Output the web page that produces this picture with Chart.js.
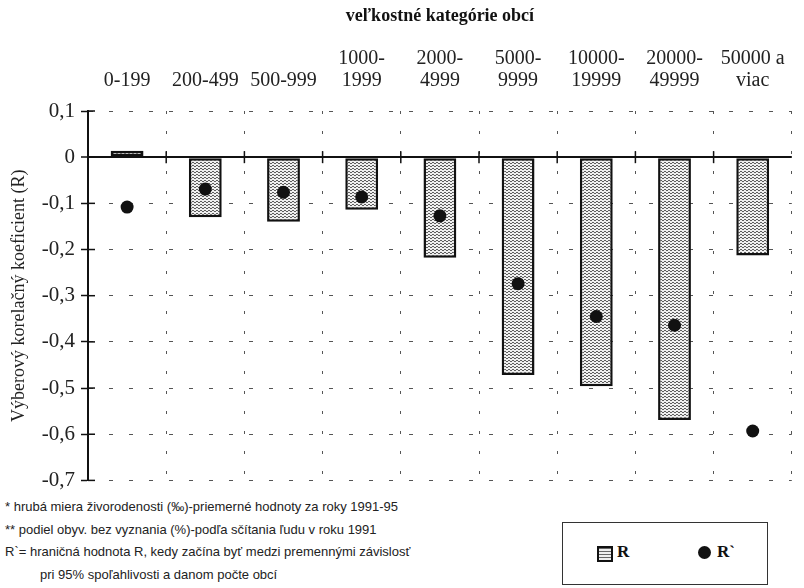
<!DOCTYPE html>
<html><head><meta charset="utf-8">
<script src="https://cdn.jsdelivr.net/npm/chart.js@4/dist/chart.umd.min.js"></script>
<style>
html,body{margin:0;padding:0;background:#fff}
body{width:804px;height:588px;overflow:hidden;position:relative}
#c{position:absolute;left:0;top:0}
.fn{position:absolute;left:5px;font-family:"Liberation Sans",Arial,sans-serif;font-size:13px;line-height:16px;color:#222;white-space:nowrap}
#legend{position:absolute;left:562px;top:522px;width:206px;height:63px;border:1.5px solid #333;box-sizing:border-box;background:#fff}
.sw{position:absolute;left:34px;top:23px;width:12px;height:12px;border:2px solid #111;background:repeating-linear-gradient(180deg,#666 0 1px,#eee 1px 3px)}
.lt{position:absolute;font-family:"Liberation Serif",serif;font-weight:bold;font-size:17px;line-height:20px;color:#111;top:19px}
.dot{position:absolute;left:135px;top:23px;width:13px;height:13px;border-radius:50%;background:#111}
</style>
</head><body>
<canvas id="c" width="804" height="499"></canvas>
<div class="fn" style="top:499px">* hrubá miera živorodenosti (‰)-priemerné hodnoty za roky 1991-95</div>
<div class="fn" style="top:522px">** podiel obyv. bez vyznania (%)-podľa sčítania ľudu v roku 1991</div>
<div class="fn" style="top:544px">R`= hraničná hodnota R, kedy začína byť medzi premennými závislosť</div>
<div class="fn" style="top:567px;left:40px">pri 95% spoľahlivosti a danom počte obcí</div>
<div id="legend">
  <div class="sw"></div><div class="lt" style="left:54px">R</div>
  <div class="dot"></div><div class="lt" style="left:154px">R`</div>
</div>
<script>
const categories = [['0-199'],['200-499'],['500-999'],['1000-','1999'],['2000-','4999'],['5000-','9999'],['10000-','19999'],['20000-','49999'],['50000 a','viac']];
const rValues = [0.014,-0.13,-0.14,-0.114,-0.218,-0.472,-0.496,-0.569,-0.213];
const rCritValues = [-0.108,-0.069,-0.076,-0.086,-0.127,-0.274,-0.345,-0.364,-0.593];
const xTitle = 'veľkostné kategórie obcí';
const yTitle = 'Výberový korelačný koeficient (R)';

const canvas = document.getElementById('c');
const ctx = canvas.getContext('2d');
function makePattern(){
  const p = document.createElement('canvas'); p.width = 4; p.height = 3;
  const g = p.getContext('2d');
  g.fillStyle = '#efefef'; g.fillRect(0,0,4,3);
  g.fillStyle = '#5e5e5e'; g.fillRect(0,0,2,1); g.fillRect(2,1,2,1);
  return ctx.createPattern(p,'repeat');
}
const isZero = c => c.tick && Math.abs(c.tick.value) < 1e-9;
const crossPlugin = {
  id:'cross',
  afterDatasetsDraw(chart){
    const {ctx, chartArea, scales:{x,y}} = chart;
    ctx.save(); ctx.strokeStyle = '#111'; ctx.lineWidth = 1.5;
    y.ticks.forEach((t,i)=>{const py = y.getPixelForTick(i); ctx.beginPath(); ctx.moveTo(chartArea.left,py); ctx.lineTo(chartArea.left+7,py); ctx.stroke();});
    const z = y.getPixelForValue(0);
    for(let i=1;i<categories.length;i++){
      const px = (x.getPixelForTick(i-1)+x.getPixelForTick(i))/2;
      ctx.beginPath(); ctx.moveTo(px,z-6); ctx.lineTo(px,z+6); ctx.stroke();
    }
    ctx.restore();
  }
};
new Chart(ctx,{
  type:'bar',
  data:{labels:categories,datasets:[
    {type:'line',label:'R`',data:rCritValues,showLine:false,pointRadius:6.5,pointHoverRadius:6.5,pointBackgroundColor:'#111',pointBorderColor:'#111',pointBorderWidth:0,order:0},
    {type:'bar',label:'R',data:rValues,backgroundColor:makePattern(),borderColor:'#111',borderWidth:2.5,borderSkipped:false,barPercentage:0.42,categoryPercentage:1,order:1}
  ]},
  options:{
    responsive:false,animation:false,devicePixelRatio:1,
    layout:{padding:{left:0,right:0,top:0,bottom:0}},
    plugins:{legend:{display:false},tooltip:{enabled:false},title:{display:false}},
    scales:{
      x:{position:'top',offset:true,
        grid:{offset:true,color:'#555',lineWidth:1,drawTicks:false},
        border:{display:false,dash:[3,17]},
        ticks:{font:{family:'Liberation Serif',size:20,lineHeight:1.1},color:'#222',padding:19,maxRotation:0,minRotation:0,autoSkip:false},
        title:{display:true,text:xTitle,font:{family:'Liberation Serif',size:18,weight:'bold'},color:'#111',padding:{top:6,bottom:2}},
        afterFit(s){s.height=111;}
      },
      y:{min:-0.7,max:0.1,
        ticks:{stepSize:0.1,font:{family:'Liberation Serif',size:21},color:'#222',padding:6,
          callback:v=>{const r=Math.round(v*10)/10; return (r===0?'0':String(r)).replace('.',',');}},
        grid:{color:c=>isZero(c)?'#111':'#555',lineWidth:c=>isZero(c)?2:1,drawTicks:true,tickLength:7,tickColor:'#111',tickWidth:1.5},
        border:{display:true,color:'#111',width:2,dash:c=>isZero(c)?[]:[4,16]},
        title:{display:true,text:yTitle,font:{family:'Liberation Serif',size:18},color:'#222',padding:{top:8,bottom:0}},
        afterFit(s){s.width=88;}
      }
    }
  },
  plugins:[crossPlugin]
});
</script>
</body></html>
